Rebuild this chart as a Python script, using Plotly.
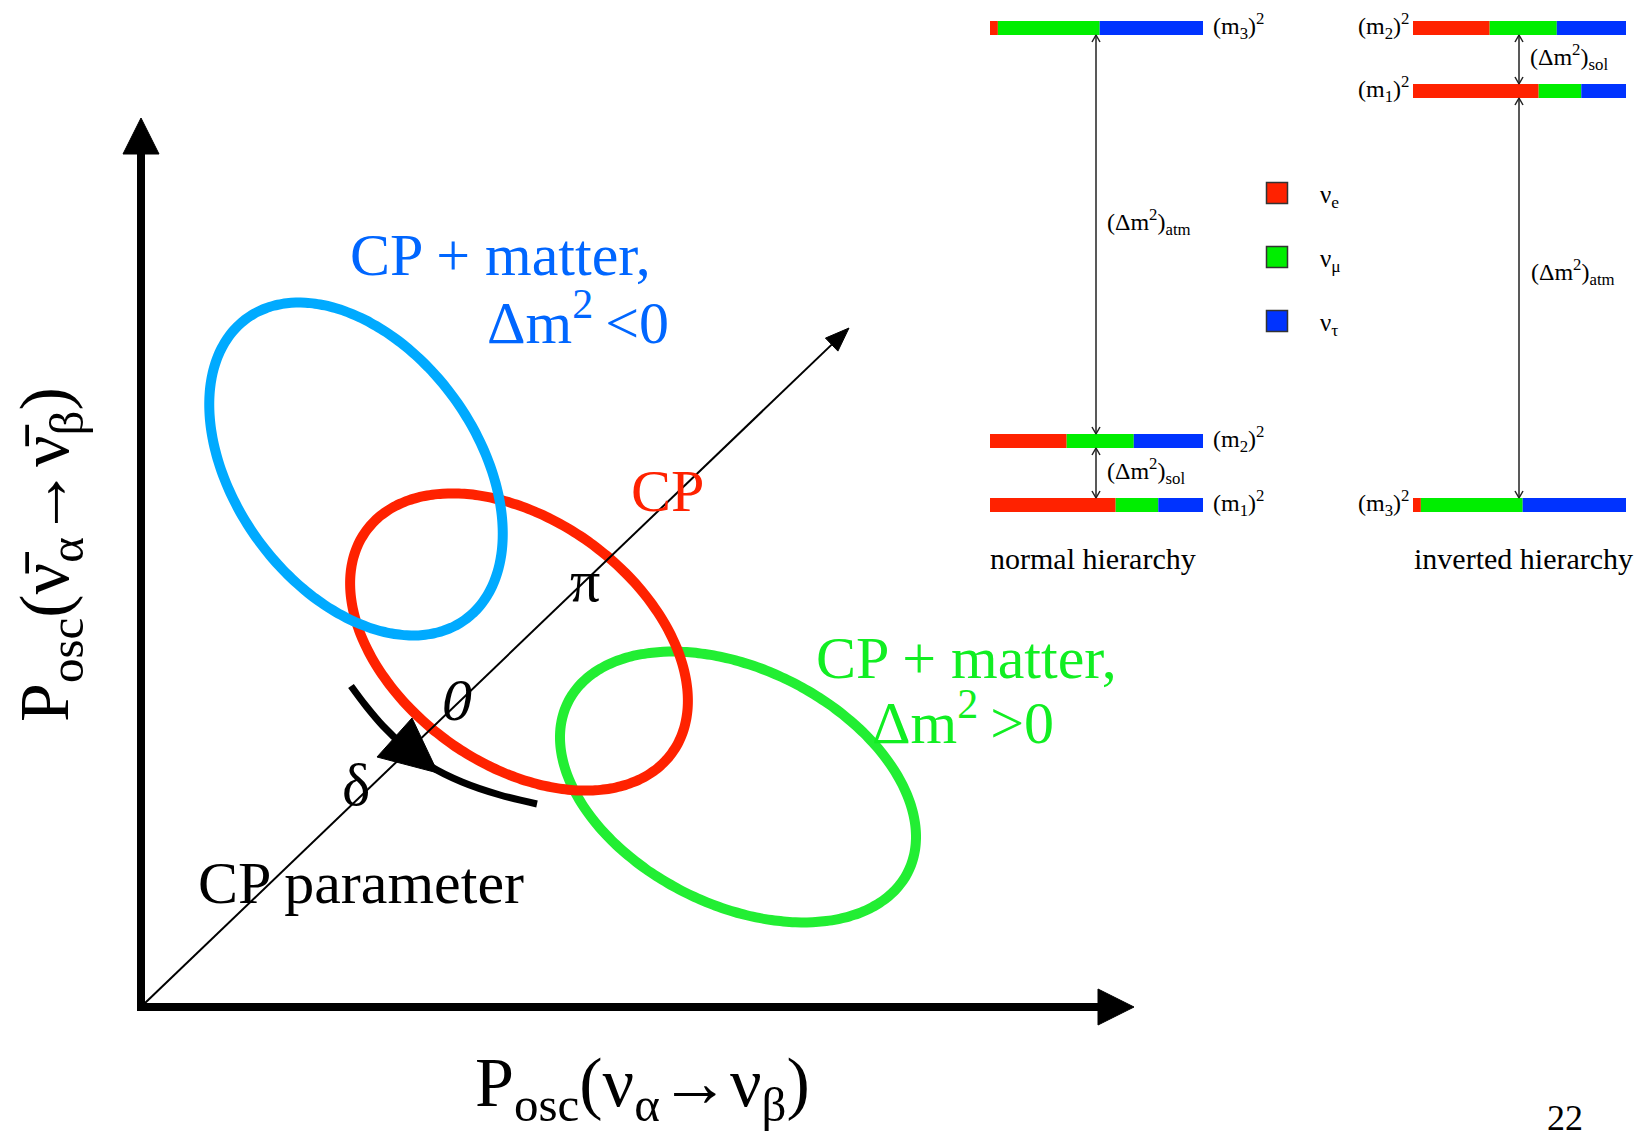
import numpy as np
import plotly.graph_objects as go

W, H = 1648, 1139
SERIF = "Liberation Serif, Times New Roman, serif"

# ---- CP trajectory loops: centre, semi-axes and tilt (deg, clockwise on screen)
loop_names = ["CP + matter, dm2<0", "CP", "CP + matter, dm2>0"]
loop_cx = [356, 519, 738]
loop_cy = [469, 642, 787]
loop_a = [186, 189, 190]
loop_b = [121, 122, 118]
loop_tilt = [54, 36, 26.5]
loop_colors = ["#00AAFF", "#FF2200", "#22EE33"]
loop_order = [2, 1, 0]  # green below red, blue on top

# ---- flavour content of the mass eigenstates (m1, m2, m3)
mass_states = ["m1", "m2", "m3"]
frac_e = [0.59, 0.36, 0.037]
frac_mu = [0.20, 0.315, 0.478]
frac_tau = [0.21, 0.325, 0.485]
flavour_names = ["ν<sub>e</sub>", "ν<sub>μ</sub>", "ν<sub>τ</sub>"]
flavour_colors = ["#FF2200", "#00EE00", "#0033FF"]

# level heights of each hierarchy (screen y of m1, m2, m3)
normal_levels = [505, 441, 28]
inverted_levels = [91, 28, 505]
normal_x0, inverted_x0, bar_len, bar_th = 990, 1413, 213, 14

fig = go.Figure()

# ---- loops
t = np.linspace(0, 2 * np.pi, 181)
for i in loop_order:
    phi = np.radians(loop_tilt[i])
    ex = loop_a[i] * np.cos(t)
    ey = loop_b[i] * np.sin(t)
    xs = loop_cx[i] + ex * np.cos(phi) - ey * np.sin(phi)
    ys = loop_cy[i] + ex * np.sin(phi) + ey * np.cos(phi)
    fig.add_trace(go.Scatter(x=xs, y=ys, mode="lines", name=loop_names[i],
                             line=dict(color=loop_colors[i], width=10,
                                       shape="spline", simplify=False)))

# ---- axes of the probability plane
origin = (141, 1007)
y_tip = (141, 118)
x_tip = (1134, 1007)
diag_tip = (849, 328)

fig.add_trace(go.Scatter(x=[origin[0], origin[0]], y=[origin[1] + 4, y_tip[1] + 34],
                         mode="lines", line=dict(color="black", width=8)))
fig.add_trace(go.Scatter(x=[y_tip[0], y_tip[0] - 18, y_tip[0] + 18, y_tip[0]],
                         y=[y_tip[1], y_tip[1] + 36, y_tip[1] + 36, y_tip[1]],
                         mode="lines", fill="toself", fillcolor="black",
                         line=dict(color="black", width=1)))
fig.add_trace(go.Scatter(x=[origin[0] - 4, x_tip[0] - 34], y=[origin[1], origin[1]],
                         mode="lines", line=dict(color="black", width=8)))
fig.add_trace(go.Scatter(x=[x_tip[0], x_tip[0] - 36, x_tip[0] - 36, x_tip[0]],
                         y=[x_tip[1], x_tip[1] - 18, x_tip[1] + 18, x_tip[1]],
                         mode="lines", fill="toself", fillcolor="black",
                         line=dict(color="black", width=1)))

# CP-parameter diagonal
dx, dy = diag_tip[0] - origin[0], diag_tip[1] - origin[1]
L = np.hypot(dx, dy)
ux, uy = dx / L, dy / L
base = (diag_tip[0] - 24 * ux, diag_tip[1] - 24 * uy)
fig.add_trace(go.Scatter(x=[origin[0] + 3, base[0]], y=[origin[1] - 3, base[1]],
                         mode="lines", line=dict(color="black", width=2)))
fig.add_trace(go.Scatter(
    x=[diag_tip[0], base[0] - 9 * uy, base[0] + 9 * uy, diag_tip[0]],
    y=[diag_tip[1], base[1] + 9 * ux, base[1] - 9 * ux, diag_tip[1]],
    mode="lines", fill="toself", fillcolor="black", line=dict(color="black", width=1)))

# curved delta arrow
arc_x = [351, 366, 383, 404, 430, 462, 500, 537]
arc_y = [686, 706, 726, 746, 766, 782, 795, 804]
fig.add_trace(go.Scatter(x=arc_x, y=arc_y, mode="lines",
                         line=dict(color="black", width=7, shape="spline",
                                   simplify=False)))
head_x = [412, 377, 438, 412]
head_y = [718, 757, 773, 718]
fig.add_trace(go.Scatter(x=head_x, y=head_y, mode="lines", fill="toself",
                         fillcolor="black", line=dict(color="black", width=1)))

# ---- mass hierarchy bars
for x0, levels in [(normal_x0, normal_levels), (inverted_x0, inverted_levels)]:
    starts = [0.0, 0.0, 0.0]
    for fr, col in zip([frac_e, frac_mu, frac_tau], flavour_colors):
        fig.add_trace(go.Bar(orientation="h", y=levels,
                             x=[f * bar_len for f in fr],
                             base=[x0 + s * bar_len for s in starts],
                             width=bar_th, marker=dict(color=col, line=dict(width=0))))
        starts = [s + f for s, f in zip(starts, fr)]


def double_arrow(x, y_top, y_bot, col="#222222"):
    fig.add_trace(go.Scatter(x=[x, x], y=[y_top, y_bot], mode="lines",
                             line=dict(color=col, width=1.5)))
    for yy, d in [(y_top, 1), (y_bot, -1)]:
        fig.add_trace(go.Scatter(x=[x - 4, x, x + 4], y=[yy + 7 * d, yy, yy + 7 * d],
                                 mode="lines", line=dict(color=col, width=1.5)))


half = bar_th / 2
double_arrow(1096, normal_levels[2] + half, normal_levels[1] - half)
double_arrow(1096, normal_levels[1] + half, normal_levels[0] - half)
double_arrow(1519, inverted_levels[1] + half, inverted_levels[0] - half)
double_arrow(1519, inverted_levels[0] + half, inverted_levels[2] - half)

# flavour key squares
key_y = [193, 257, 321]
fig.add_trace(go.Scatter(x=[1277] * 3, y=key_y, mode="markers",
                         marker=dict(symbol="square", size=21, color=flavour_colors,
                                     line=dict(color="#333333", width=1.5))))


def label(x, y, text, size, color="black", xanchor="left", angle=0):
    fig.add_annotation(x=x, y=y, xref="x", yref="y", text=text, showarrow=False,
                       font=dict(family=SERIF, size=size, color=color),
                       xanchor=xanchor, yanchor="middle", textangle=angle)


BLUE_TXT, RED_TXT, GREEN_TXT = "#0066FF", "#FF2200", "#11EE22"
label(348, 255, "CP + matter,", 60, BLUE_TXT)
label(485, 318, "Δm<sup>2</sup>\u2009&lt;0", 60, BLUE_TXT)
label(629, 491, "CP", 60, RED_TXT)
label(814, 658, "CP + matter,", 60, GREEN_TXT)
label(870, 718, "Δm<sup>2</sup>\u2009&gt;0", 60, GREEN_TXT)
label(196, 883, "CP parameter", 60)
label(585, 581, "π", 60, xanchor="center")
label(457, 700, "<i>0</i>", 60, xanchor="center")
label(356, 785, "δ", 60, xanchor="center")

nubar = "ν\u0304"
label(642, 1088, "P<sub>osc</sub>(ν<sub>α</sub>→ν<sub>β</sub>)", 70, xanchor="center")
label(50, 555, "P<sub>osc</sub>(" + nubar + "<sub>α</sub>→" + nubar + "<sub>β</sub>)",
      70, xanchor="center", angle=-90)
label(1565, 1118, "22", 36, xanchor="center")

# hierarchy annotations
ms = {"m1": "(m<sub>1</sub>)<sup>2</sup>", "m2": "(m<sub>2</sub>)<sup>2</sup>",
      "m3": "(m<sub>3</sub>)<sup>2</sup>"}
for k, st in enumerate(mass_states):
    label(normal_x0 + bar_len + 8, normal_levels[k] - 2, ms[st], 24)
    label(inverted_x0 - 2, inverted_levels[k] - 2, ms[st], 24, xanchor="right")
label(1105, 222, "(Δm<sup>2</sup>)<sub>atm</sub>", 24)
label(1105, 471, "(Δm<sup>2</sup>)<sub>sol</sub>", 24)
label(1528, 57, "(Δm<sup>2</sup>)<sub>sol</sub>", 24)
label(1529, 272, "(Δm<sup>2</sup>)<sub>atm</sub>", 24)
label(988, 558, "normal hierarchy", 30)
label(1412, 558, "inverted hierarchy", 30)
for yk, nm in zip(key_y, flavour_names):
    label(1318, yk + 3, nm, 25)

fig.update_layout(
    width=W, height=H, margin=dict(l=0, r=0, t=0, b=0),
    paper_bgcolor="white", plot_bgcolor="white", showlegend=False,
    barmode="overlay",
    xaxis=dict(range=[0, W], visible=False, fixedrange=True),
    yaxis=dict(range=[H, 0], visible=False, fixedrange=True),
)
fig.write_html("out.html")
